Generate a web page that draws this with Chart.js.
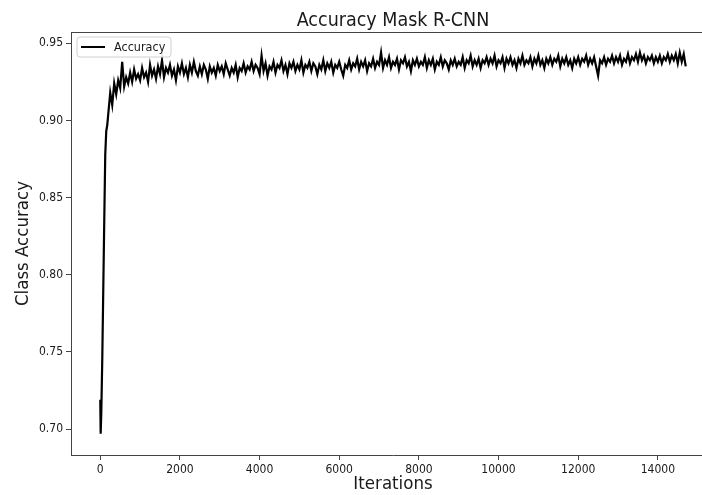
<!DOCTYPE html>
<html>
<head>
<meta charset="utf-8">
<script src="https://cdn.jsdelivr.net/npm/chart.js@4.4.1/dist/chart.umd.min.js"></script>
<style>
html,body{margin:0;padding:0;background:#fff;overflow:hidden;}
#wrap{width:702px;height:495px;overflow:hidden;position:relative;}
canvas{display:block;}
</style>
</head>
<body>
<div id="wrap"><canvas id="c" width="716" height="495" style="width:716px;height:495px"></canvas></div>
<script>
const chartTitle = "Accuracy Mask R-CNN";
const xLabel = "Iterations";
const yLabel = "Class Accuracy";
const seriesName = "Accuracy";
const xTicks = [0, 2000, 4000, 6000, 8000, 10000, 12000, 14000];
const yTicks = [0.70, 0.75, 0.80, 0.85, 0.90, 0.95];

const iterations = [
0,10,25,50,75,100,125,150,175,200,250,300,350,400,450,500,550,600,650,700,750,800,850,900,950,
1000,1050,1100,1150,1200,1250,1300,1350,1400,1450,1500,1550,1600,1650,1700,1750,1800,1850,1900,1950,
2000,2050,2100,2150,2200,2250,2300,2350,2400,2450,2500,2550,2600,2650,2700,2750,2800,2850,2900,2950,
3000,3050,3100,3150,3200,3250,3300,3350,3400,3450,3500,3550,3600,3650,3700,3750,3800,3850,3900,3950,
4000,4050,4100,4150,4200,4250,4300,4350,4400,4450,4500,4550,4600,4650,4700,4750,4800,4850,4900,4950,
5000,5050,5100,5150,5200,5250,5300,5350,5400,5450,5500,5550,5600,5650,5700,5750,5800,5850,5900,5950,
6000,6050,6100,6150,6200,6250,6300,6350,6400,6450,6500,6550,6600,6650,6700,6750,6800,6850,6900,6950,
7000,7050,7100,7150,7200,7250,7300,7350,7400,7450,7500,7550,7600,7650,7700,7750,7800,7850,7900,7950,
8000,8050,8100,8150,8200,8250,8300,8350,8400,8450,8500,8550,8600,8650,8700,8750,8800,8850,8900,8950,
9000,9050,9100,9150,9200,9250,9300,9350,9400,9450,9500,9550,9600,9650,9700,9750,9800,9850,9900,9950,
10000,10050,10100,10150,10200,10250,10300,10350,10400,10450,10500,10550,10600,10650,10700,10750,10800,10850,10900,10950,
11000,11050,11100,11150,11200,11250,11300,11350,11400,11450,11500,11550,11600,11650,11700,11750,11800,11850,11900,11950,
12000,12050,12100,12150,12200,12250,12300,12350,12400,12450,12500,12550,12600,12650,12700,12750,12800,12850,12900,12950,
13000,13050,13100,13150,13200,13250,13300,13350,13400,13450,13500,13550,13600,13650,13700,13750,13800,13850,13900,13950,
14000,14050,14100,14150,14200,14250,14300,14350,14400,14450,14500,14550,14600,14650,14700
];

const accuracy = [
0.719,0.697,0.710,0.745,0.790,0.835,0.878,0.893,0.897,0.904,0.918,0.910,0.924,0.917,0.926,0.921,0.938,0.922,0.928,0.924,0.931,0.925,0.933,0.927,0.930,
0.926,0.934,0.928,0.931,0.925,0.936,0.929,0.933,0.927,0.935,0.930,0.939,0.928,0.934,0.931,0.936,0.929,0.933,0.926,0.935,
0.931,0.937,0.930,0.934,0.928,0.936,0.931,0.938,0.932,0.929,0.935,0.930,0.936,0.933,0.927,0.935,0.931,0.934,0.929,0.936,
0.932,0.935,0.930,0.937,0.933,0.929,0.934,0.931,0.936,0.928,0.934,0.932,0.937,0.931,0.935,0.933,0.938,0.932,0.936,0.934,
0.930,0.942,0.932,0.937,0.929,0.935,0.933,0.938,0.931,0.936,0.934,0.939,0.932,0.936,0.930,0.937,0.934,0.938,0.932,0.936,
0.933,0.939,0.931,0.936,0.934,0.938,0.932,0.937,0.935,0.930,0.936,0.933,0.939,0.932,0.937,0.934,0.938,0.931,0.936,0.934,
0.938,0.933,0.929,0.936,0.934,0.939,0.933,0.937,0.935,0.940,0.933,0.938,0.935,0.939,0.932,0.937,0.935,0.940,0.934,0.938,
0.936,0.944,0.934,0.939,0.936,0.941,0.934,0.938,0.936,0.940,0.933,0.939,0.937,0.941,0.935,0.938,0.932,0.939,0.936,0.940,
0.935,0.938,0.936,0.941,0.934,0.939,0.936,0.940,0.933,0.938,0.936,0.941,0.935,0.939,0.937,0.933,0.939,0.936,0.940,0.935,
0.938,0.936,0.941,0.934,0.939,0.937,0.942,0.935,0.939,0.936,0.940,0.934,0.939,0.937,0.941,0.936,0.940,0.937,0.942,0.935,
0.939,0.937,0.941,0.934,0.940,0.937,0.941,0.936,0.939,0.934,0.940,0.937,0.942,0.936,0.939,0.937,0.941,0.935,0.940,0.937,
0.942,0.936,0.939,0.934,0.940,0.937,0.941,0.936,0.940,0.938,0.942,0.935,0.940,0.937,0.941,0.936,0.939,0.934,0.940,0.937,
0.941,0.936,0.940,0.938,0.942,0.936,0.940,0.937,0.941,0.935,0.929,0.939,0.937,0.941,0.936,0.940,0.938,0.942,0.937,0.941,
0.938,0.942,0.936,0.940,0.938,0.943,0.937,0.941,0.939,0.943,0.938,0.944,0.939,0.942,0.937,0.941,0.939,0.942,0.937,0.941,
0.938,0.942,0.937,0.941,0.939,0.943,0.938,0.942,0.939,0.943,0.937,0.944,0.938,0.943,0.935
];

const FONT = "'DejaVu Sans Condensed', 'DejaVu Sans', sans-serif";
const SPINE = '#444';
const TEXT = '#1a1a1a';

const points = iterations.map((it, i) => ({x: it, y: accuracy[i]}));

const framePlugin = {
  id: 'frame',
  afterDraw(chart) {
    const {ctx, chartArea: a} = chart;
    ctx.save();
    // clear anything at the far right of the plot (outside data extent)
    ctx.fillStyle = '#fff';
    ctx.fillRect(a.right - 20, a.top, 40, a.bottom - a.top);
    // top spine
    ctx.strokeStyle = SPINE;
    ctx.lineWidth = 1;
    ctx.beginPath();
    ctx.moveTo(a.left, a.top + 0.5);
    ctx.lineTo(a.right + 20, a.top + 0.5);
    ctx.stroke();
    // title
    ctx.fillStyle = TEXT;
    ctx.font = "19.5px " + FONT;
    ctx.textAlign = 'center';
    ctx.textBaseline = 'alphabetic';
    ctx.fillText(chartTitle, (a.left + a.right) / 2, 26);
    // legend
    const lx = a.left + 6, ly = a.top + 5, lw = 94, lh = 20, r = 3;
    ctx.fillStyle = 'rgba(255,255,255,0.85)';
    ctx.strokeStyle = '#d0d0d0';
    ctx.beginPath();
    ctx.moveTo(lx + r, ly);
    ctx.lineTo(lx + lw - r, ly);
    ctx.arcTo(lx + lw, ly, lx + lw, ly + r, r);
    ctx.lineTo(lx + lw, ly + lh - r);
    ctx.arcTo(lx + lw, ly + lh, lx + lw - r, ly + lh, r);
    ctx.lineTo(lx + r, ly + lh);
    ctx.arcTo(lx, ly + lh, lx, ly + lh - r, r);
    ctx.lineTo(lx, ly + r);
    ctx.arcTo(lx, ly, lx + r, ly, r);
    ctx.closePath();
    ctx.fill();
    ctx.stroke();
    ctx.strokeStyle = '#000';
    ctx.lineWidth = 2;
    ctx.beginPath();
    ctx.moveTo(lx + 4, ly + lh / 2);
    ctx.lineTo(lx + 28, ly + lh / 2);
    ctx.stroke();
    ctx.fillStyle = TEXT;
    ctx.font = "12.5px " + FONT;
    ctx.textAlign = 'left';
    ctx.textBaseline = 'middle';
    ctx.fillText(chart.data.datasets[0].label, lx + 37, ly + lh / 2 + 0.5);
    ctx.restore();
  }
};

new Chart(document.getElementById('c'), {
  type: 'line',
  data: {
    datasets: [{
      label: seriesName,
      data: points,
      borderColor: '#000',
      backgroundColor: '#000',
      borderWidth: 2.2,
      pointRadius: 0,
      tension: 0,
      fill: false
    }]
  },
  options: {
    responsive: false,
    devicePixelRatio: 1,
    animation: false,
    layout: {padding: {left: 0, top: 32, right: 1, bottom: 0}},
    plugins: {legend: {display: false}, title: {display: false}, tooltip: {enabled: false}},
    scales: {
      x: {
        type: 'linear',
        min: -735,
        max: 15435,
        afterBuildTicks: s => { s.ticks = xTicks.map(v => ({value: v})); },
        afterFit: s => { s.height = 40; },
        grid: {drawOnChartArea: false, drawTicks: true, tickLength: 5, tickColor: SPINE},
        border: {display: true, color: SPINE, width: 1},
        ticks: {color: TEXT, font: {family: FONT, size: 12}, padding: 3, maxRotation: 0, autoSkip: false,
                callback: v => String(v)},
        title: {display: true, text: xLabel, color: TEXT, font: {family: FONT, size: 18.5}, padding: {top: 0, bottom: 0}}
      },
      y: {
        type: 'linear',
        min: 0.6832,
        max: 0.9573,
        afterBuildTicks: s => { s.ticks = yTicks.map(v => ({value: v})); },
        afterFit: s => { s.width = 71; },
        grid: {drawOnChartArea: false, drawTicks: true, tickLength: 5, tickColor: SPINE},
        border: {display: true, color: SPINE, width: 1},
        ticks: {color: TEXT, font: {family: FONT, size: 12}, padding: 3, autoSkip: false,
                callback: v => Number(v).toFixed(2)},
        title: {display: true, text: yLabel, color: TEXT, font: {family: FONT, size: 18.5}, padding: {top: 12, bottom: 0}}
      }
    }
  },
  plugins: [framePlugin]
});
</script>
</body>
</html>
